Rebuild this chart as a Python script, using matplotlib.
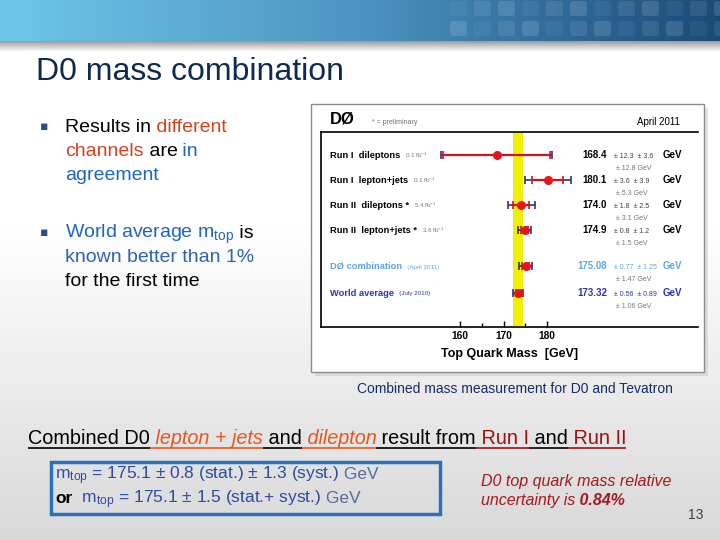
import matplotlib
matplotlib.use('Agg')
import matplotlib.pyplot as plt
import numpy as np
from matplotlib.patches import Rectangle, FancyBboxPatch

plt.rcParams['font.family'] = ['Liberation Sans', 'DejaVu Sans']
plt.rcParams['mathtext.fontset'] = 'custom'
plt.rcParams['mathtext.rm'] = 'Liberation Sans'
plt.rcParams['mathtext.it'] = 'Liberation Sans:italic'
plt.rcParams['mathtext.bf'] = 'Liberation Sans:bold'

# --- data ---
labels = ['Run I  dileptons', 'Run I  lepton+jets', 'Run II  dileptons *',
          'Run II  lepton+jets *', 'DØ combination', 'World average']
notes = ['0.1 fb$^{-1}$', '0.1 fb$^{-1}$', '5.4 fb$^{-1}$', '3.6 fb$^{-1}$',
         '(April 2011)', '(July 2010)']
mass = [168.4, 180.1, 174.0, 174.9, 175.08, 173.32]
stat = [12.3, 3.6, 1.8, 0.8, 0.77, 0.56]
syst = [3.6, 3.9, 2.5, 1.2, 1.25, 0.89]
total = [12.8, 5.3, 3.1, 1.5, 1.47, 1.06]
mass_txt = ['168.4', '180.1', '174.0', '174.9', '175.08', '173.32']
stat_txt = ['12.3', '3.6', '1.8', '0.8', '0.77', '0.56']
syst_txt = ['3.6', '3.9', '2.5', '1.2', '1.25', '0.89']
total_txt = ['12.8', '5.3', '3.1', '1.5', '1.47', '1.06']
rows = [0, 1, 2, 3, 4.45, 5.5]
xticks = [160, 170, 180]
xminor = [165, 175]

row_col = ['black'] * 4 + ['#5aa6e6', '#2a36b0']

fig = plt.figure(figsize=(7.2, 5.4), dpi=100)
bg = fig.add_axes([0, 0, 1, 1])
bg.set_xlim(0, 720)
bg.set_ylim(540, 0)
bg.axis('off')

# slide background
yy = np.linspace(0, 1, 540)
shade = np.clip((yy - 0.42) / 0.58, 0, 1)
col = 1 - 0.15 * shade
bgimg = np.stack([col, col, col], axis=-1)[:, None, :]
bg.imshow(bgimg, extent=(0, 720, 540, 0), aspect='auto', zorder=0)

# banner
xx = np.linspace(0, 1, 400)[:, None]
c0 = np.array([0.43, 0.78, 0.91])
c1 = np.array([0.30, 0.58, 0.76])
c2 = np.array([0.10, 0.29, 0.47])
ban = np.where(xx < 0.5, c0 + (c1 - c0) * (xx / 0.5), c1 + (c2 - c1) * ((xx - 0.5) / 0.5))
bg.imshow(ban[None, :, :], extent=(0, 720, 41, 0), aspect='auto', zorder=1)
for i, x0 in enumerate(range(450, 720, 24)):
    for j, y0 in enumerate([1, 21]):
        a = 0.05 + 0.04 * ((i + 2 * j) % 3)
        bg.add_patch(FancyBboxPatch((x0, y0), 17, 15, boxstyle='round,pad=0,rounding_size=3',
                                    fc='white', ec='none', alpha=a, zorder=2))
sh = np.linspace(0.62, 1.0, 12)
bg.imshow(np.stack([sh, sh, sh], axis=-1)[:, None, :], extent=(0, 720, 52, 41),
          aspect='auto', zorder=1)

# title
bg.text(36, 72, 'D0 mass combination', fontsize=23, color='#0e2a4c', va='center', zorder=5)

renderer = fig.canvas.get_renderer()


def pieces_line(x, y, pieces, size, **common):
    out = []
    for s, c, kw in pieces:
        opts = dict(color=c, fontsize=size, va='baseline', ha='left', zorder=6)
        opts.update(common)
        opts.update(kw)
        t = bg.text(x, y, s, **opts)
        bb = t.get_window_extent(renderer)
        out.append((x, bb.width))
        x += bb.width
    return out


red = '#d4421e'
blue = '#1f66c2'
# bullets
for yb in [127, 233]:
    bg.text(44, yb, '\u25aa', fontsize=9, color='#2b4f7e', va='center', ha='center',
            family='DejaVu Sans', zorder=6)
pieces_line(65, 132, [('Results in', 'black', {}), (' different', red, {})], 14)
pieces_line(65, 156, [('channels', red, {}), (' are', 'black', {}), (' in', blue, {})], 14)
pieces_line(65, 180, [('agreement', blue, {})], 14)
pieces_line(65, 238, [('World average m$_{\\rm top}$', blue, {}), (' is', 'black', {})], 14)
pieces_line(65, 262, [('known better than 1%', '#2f63b4', {})], 14)
pieces_line(65, 286, [('for the first time', 'black', {})], 14)

# chart panel
bg.add_patch(Rectangle((315, 108), 393, 268, fc='#c8c8c8', ec='none', alpha=0.5, zorder=3))
bg.add_patch(Rectangle((311, 104), 393, 268, fc='white', ec='#8c8c8c', lw=1, zorder=4))

ax = fig.add_axes([321 / 720, 1 - 327 / 540, 377 / 720, 195 / 540], zorder=5)
ax.patch.set_alpha(0)
ax.set_xlim(128.0, 214.7)
ax.set_ylim(6.88, -0.92)
ax.spines['right'].set_visible(False)
for s in ['top', 'left', 'bottom']:
    ax.spines[s].set_linewidth(1.2)
ax.set_yticks([])
ax.set_xticks(xticks)
ax.set_xticks(xminor, minor=True)
ax.tick_params(axis='x', which='major', direction='in', length=4, width=1, pad=3,
               labelsize=7.3)
ax.tick_params(axis='x', which='minor', direction='in', length=3, width=1)
for lab in ax.get_xticklabels():
    lab.set_fontweight('bold')
ax.set_xlabel('Top Quark Mass  [GeV]', fontsize=9, fontweight='bold', labelpad=5)

ax.axvspan(mass[5] - total[5], mass[5] + total[5], color='#f0f000', zorder=1, lw=0)
ax.errorbar(mass, rows, xerr=total, fmt='none', ecolor='#28348e', elinewidth=1.2,
            capsize=3, capthick=1.2, zorder=3)
ax.errorbar(mass, rows, xerr=stat, fmt='o', color='#e8141c', ecolor='#d0141c',
            elinewidth=1.6, capsize=3, capthick=1.2, ms=5.5, zorder=4)

# chart texts (positions follow the axes rows)
bg.text(330, 119, 'DØ', fontsize=12, fontweight='bold', va='center', zorder=6)
bg.text(372, 122, '* = preliminary', fontsize=5, color='#707070', va='center', zorder=6)
bg.text(680, 122, 'April 2011', fontsize=7, ha='right', va='center', zorder=6)

for i, r in enumerate(rows):
    yp = 540 - ax.transData.transform((170, r))[1]
    c = row_col[i]
    note_c = '#7a7a7a' if i < 4 else c
    pieces_line(330, yp + 3, [(labels[i], c, {'fontweight': 'bold'}),
                              ('   ' + notes[i], note_c, {'fontsize': 4.5})], 6.7)
    vc = 'black' if i < 4 else c
    bg.text(607, yp + 3, mass_txt[i], fontsize=7, fontweight='bold', color=vc,
            ha='right', va='baseline', zorder=6)
    ec = '#404040' if i < 4 else c
    bg.text(614, yp + 3, '± ' + stat_txt[i] + '  ± ' + syst_txt[i], fontsize=5,
            color=ec, va='baseline', zorder=6)
    bg.text(682, yp + 3, 'GeV', fontsize=7, fontweight='bold', color=vc,
            ha='right', va='baseline', zorder=6)
    bg.text(616, yp + 15, '± ' + total_txt[i] + ' GeV', fontsize=5, color='#777777',
            va='baseline', zorder=6)

bg.text(673, 389, 'Combined mass measurement for D0 and Tevatron', fontsize=10,
        color='#1a2a6a', ha='right', va='center', zorder=6)

# underlined summary line
orange = '#e8581e'
dred = '#a01010'
segs = [('Combined D0', 'black', {}), (' lepton + jets', orange, {'style': 'italic'}),
        (' and', 'black', {}), (' dilepton', orange, {'style': 'italic'}),
        (' result from', 'black', {}), (' Run I', dred, {}), (' and', 'black', {}),
        (' Run II', dred, {})]
placed = pieces_line(28, 444, segs, 14.3)
for (x0, w), (s, c, kw) in zip(placed, segs):
    bg.plot([x0, x0 + w], [447.5, 447.5], color=c, lw=1.2, zorder=6, solid_capstyle='butt')

# result box
bg.add_patch(Rectangle((51, 462), 389, 52, fc='none', ec='#2a72b8', lw=2.5, zorder=6))
bc = '#2c4ca6'
pieces_line(55, 479, [('m$_{\\rm top}$ = 175.1 ± 0.8 (stat.) ± 1.3 (syst.)', bc, {}),
                      (' GeV', '#5a6aa0', {})], 12.5)
pieces_line(55, 503, [('or', 'black', {'fontweight': 'bold'}),
                      ('  m$_{\\rm top}$ = 175.1 ± 1.5 (stat.+ syst.)', bc, {}),
                      (' GeV', '#5a6aa0', {})], 12.5)

ic = '#a8181c'
pieces_line(481, 486, [('D0 top quark mass relative', ic, {'style': 'italic'})], 11.5)
pieces_line(481, 505, [('uncertainty is', ic, {'style': 'italic'}),
                       (' 0.84%', ic, {'style': 'italic', 'fontweight': 'bold'})], 11.5)

bg.text(696, 515, '13', fontsize=10, color='#404040', ha='center', va='center', zorder=6)

fig.savefig('out.png', dpi=100)
